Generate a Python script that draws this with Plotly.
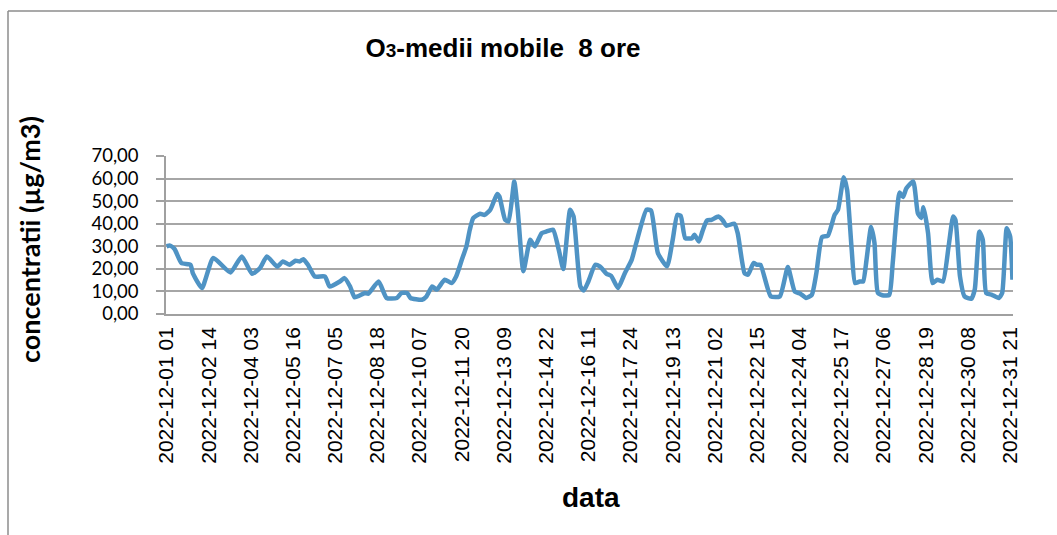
import plotly.graph_objects as go

# Hours elapsed since 2022-12-01 01 (hourly categories) and O3 8-hour moving averages (µg/m3)
hour_index = [0, 3, 7, 13, 21, 23, 31, 41, 56, 66, 75, 82, 88, 97, 102, 108, 113, 117, 120, 124,
              130, 139, 143, 152, 156, 161, 165, 174, 177, 186, 193, 202, 206, 211, 214, 224, 228,
              233, 237, 244, 250, 254, 259, 263, 266, 269, 275, 279, 284, 290, 292, 297, 300, 305,
              308, 313, 319, 323, 329, 333, 339, 344, 348, 354, 357, 363, 366, 370, 376, 380, 386,
              390, 396, 402, 408, 412, 421, 425, 431, 439, 444, 448, 451, 455, 461, 463, 467, 470,
              474, 478, 484, 488, 491, 498, 501, 507, 510, 515, 518, 521, 530, 538, 545, 551, 556,
              561, 566, 570, 575, 580, 583, 586, 589, 594, 597, 601, 604, 608, 611, 614, 618, 621,
              624, 629, 634, 637, 643, 646, 649, 655, 659, 662, 664, 668, 672, 676, 681, 686, 690,
              692, 696, 700, 706, 709, 713, 716, 719, 724, 730, 733, 737, 740, 742]
o3_values = [30.0, 30.3, 28.8, 22.6, 21.8, 18.1, 11.5, 24.8, 18.4, 25.5, 17.8, 20.4, 25.5, 21.0,
             23.3, 21.8, 23.6, 23.3, 24.3, 21.8, 16.6, 16.6, 12.2, 14.4, 15.9, 12.2, 7.4, 9.3, 9.0,
             14.4, 7.1, 7.1, 9.3, 9.3, 7.1, 6.3, 7.8, 12.2, 10.8, 15.2, 13.7, 16.6, 24.0, 29.9,
             37.3, 42.5, 44.4, 43.9, 46.2, 53.2, 52.0, 41.7, 41.0, 58.7, 46.2, 18.9, 32.9, 29.9,
             35.8, 36.5, 37.3, 28.5, 19.9, 46.2, 43.2, 12.2, 10.4, 14.4, 21.8, 21.1, 17.8, 16.9,
             11.5, 18.1, 24.0, 31.4, 46.2, 45.8, 27.0, 21.1, 32.9, 43.9, 43.5, 33.6, 33.6, 35.1,
             32.1, 36.5, 41.4, 41.7, 43.2, 41.4, 39.1, 40.0, 35.8, 18.1, 17.4, 22.6, 21.8, 21.8,
             7.8, 7.8, 20.8, 10.0, 9.0, 7.1, 8.5, 18.1, 34.1, 34.6, 38.8, 43.9, 46.2, 60.6, 55.0,
             28.5, 13.7, 14.4, 14.4, 24.0, 38.5, 31.4, 9.3, 8.2, 8.5, 22.6, 53.8, 51.8, 55.7, 58.7,
             44.7, 42.5, 47.3, 35.8, 13.7, 15.2, 14.4, 29.9, 43.2, 41.7, 16.6, 7.8, 6.8, 11.0,
             36.5, 32.9, 9.3, 8.5, 7.1, 9.3, 38.0, 34.3, 15.2]

tick_labels = ["2022-12-01 01", "2022-12-02 14", "2022-12-04 03", "2022-12-05 16",
               "2022-12-07 05", "2022-12-08 18", "2022-12-10 07", "2022-12-11 20",
               "2022-12-13 09", "2022-12-14 22", "2022-12-16 11", "2022-12-17 24",
               "2022-12-19 13", "2022-12-21 02", "2022-12-22 15", "2022-12-24 04",
               "2022-12-25 17", "2022-12-27 06", "2022-12-28 19", "2022-12-30 08",
               "2022-12-31 21"]
label_step_hours = 37
n_hours = 743
y_ticks = [0, 10, 20, 30, 40, 50, 60, 70]
y_tick_labels = ["0,00", "10,00", "20,00", "30,00", "40,00", "50,00", "60,00", "70,00"]

W, H = 1057, 535
L, R, T, B = 166, 44, 156, 221
pw, ph = W - L - R, H - T - B

fig = go.Figure()
fig.add_trace(go.Scatter(
    x=hour_index, y=o3_values, mode="lines",
    line=dict(color="#4F93C4", width=4.5, shape="spline", smoothing=0.5),
    showlegend=False, hoverinfo="skip"))

fig.update_layout(
    width=W, height=H,
    margin=dict(l=L, r=R, t=T, b=B, autoexpand=False),
    paper_bgcolor="white", plot_bgcolor="white",
    title=dict(
        text="O<span style='font-size:19px'>3</span>-medii mobile\u00a0\u00a08 ore",
        font=dict(family="Liberation Sans", size=26, color="black", weight="bold"),
        x=503 / W, xanchor="center", y=1 - 48 / H, yanchor="middle"),
    xaxis=dict(
        range=[-0.5, n_hours - 0.5], automargin=False,
        tickvals=[i * label_step_hours for i in range(len(tick_labels))],
        ticktext=tick_labels, tickangle=-90,
        tickfont=dict(family="Liberation Sans", size=21, color="black"),
        showgrid=False, zeroline=False,
        showline=True, linecolor="#A0A0A0", linewidth=1.5,
        ticks="", ticklabelstandoff=3),
    yaxis=dict(
        range=[0, 70], tickvals=y_ticks, ticktext=y_tick_labels, automargin=False,
        tickfont=dict(family="Lato", size=18.5, color="black"),
        showgrid=True, gridcolor="#A6A6A6", gridwidth=1.5,
        zeroline=False, showline=True, linecolor="#A0A0A0", linewidth=1.5,
        ticks="outside", ticklen=8, tickcolor="#A0A0A0", tickwidth=1.5,
        ticklabelstandoff=14),
)

fig.add_annotation(
    text="<b>concentratii (µg/m3)</b>", textangle=-90,
    xref="paper", yref="paper", x=(29 - L) / pw, y=(H - B - 240) / ph,
    xanchor="center", yanchor="middle", showarrow=False,
    font=dict(family="Lato", size=27, color="black"))
fig.add_annotation(
    text="<b>data</b>",
    xref="paper", yref="paper", x=(591 - L) / pw, y=(H - B - 497) / ph,
    xanchor="center", yanchor="middle", showarrow=False,
    font=dict(family="Liberation Sans", size=28, color="black"))

# outer chart border (top and left edges visible in the reference)
fig.add_shape(type="line", xref="paper", yref="paper",
              x0=(8 - L) / pw, x1=(W + 5 - L) / pw, y0=(H - B - 11) / ph, y1=(H - B - 11) / ph,
              line=dict(color="#8C8C8C", width=1.5))
fig.add_shape(type="line", xref="paper", yref="paper",
              x0=(8 - L) / pw, x1=(8 - L) / pw, y0=(H - B - 11) / ph, y1=(H - B - H - 5) / ph,
              line=dict(color="#8C8C8C", width=1.5))

fig.write_html("out.html", config={"displayModeBar": False},
               post_script="document.body.style.margin='0';")
